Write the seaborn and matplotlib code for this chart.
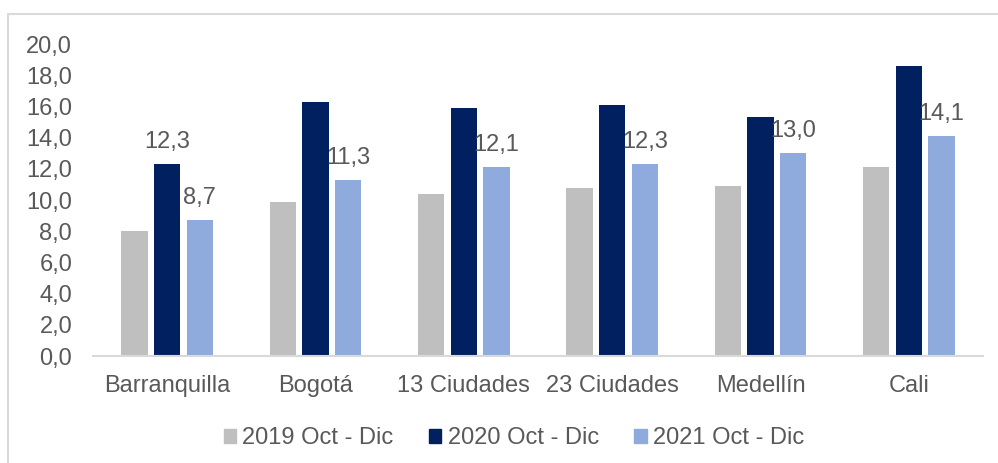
import pandas as pd
import numpy as np
import matplotlib.pyplot as plt
import seaborn as sns
from matplotlib.lines import Line2D

# Data
ciudades = ['Barranquilla', 'Bogotá', '13 Ciudades', '23 Ciudades', 'Medellín', 'Cali']
periodos = ['2019 Oct - Dic', '2020 Oct - Dic', '2021 Oct - Dic']
valores_2019 = [8.0, 9.9, 10.4, 10.8, 10.9, 12.1]
valores_2020 = [12.3, 16.3, 15.9, 16.1, 15.3, 18.6]
valores_2021 = [8.7, 11.3, 12.1, 12.3, 13.0, 14.1]
colores = ['#BFBFBF', '#002060', '#8FAADC']

# Long-form table for seaborn
df = pd.DataFrame({
    'ciudad': ciudades * 3,
    'periodo': np.repeat(periodos, len(ciudades)),
    'valor': valores_2019 + valores_2020 + valores_2021,
})

sns.set_theme(style='white')
plt.rcParams['font.family'] = ['Liberation Sans', 'DejaVu Sans']
gris = '#595959'
fs = 17

fig = plt.figure(figsize=(9.98, 4.63), dpi=100)
ax = fig.add_axes([93 / 998, 1 - 356 / 463, (983 - 93) / 998, (356 - 44) / 463])

sns.barplot(data=df, x='ciudad', y='valor', hue='periodo', order=ciudades,
            hue_order=periodos, palette=colores, width=0.66, gap=0.2,
            saturation=1, ax=ax, edgecolor='none')

ax.set_ylim(0, 20)
ax.set_xlim(-0.5, len(ciudades) - 0.5)
ax.set_yticks(np.arange(0, 21, 2))
ax.set_yticklabels([f'{v:.1f}'.replace('.', ',') for v in np.arange(0, 21, 2)])
ax.set_xlabel('')
ax.set_ylabel('')
ax.tick_params(axis='y', length=0, pad=15, labelsize=fs, labelcolor=gris)
ax.tick_params(axis='x', length=0, pad=14, labelsize=fs, labelcolor=gris)
for s in ['top', 'right', 'left']:
    ax.spines[s].set_visible(False)
ax.spines['bottom'].set_color('#D9D9D9')
ax.spines['bottom'].set_linewidth(1.5)

# Data labels: only Barranquilla 2020 and all of 2021
etiquetas_2020 = [f'{valores_2020[0]:.1f}'.replace('.', ',')] + [''] * (len(ciudades) - 1)
etiquetas_2021 = [f'{v:.1f}'.replace('.', ',') for v in valores_2021]
ax.bar_label(ax.containers[1], labels=etiquetas_2020, padding=8, fontsize=fs, color=gris)
ax.bar_label(ax.containers[2], labels=etiquetas_2021, padding=8, fontsize=fs, color=gris)

# Legend at the bottom
ax.legend_.remove()
handles = [plt.Rectangle((0, 0), 1, 1, color=c) for c in colores]
fig.legend(handles, periodos, loc='center', bbox_to_anchor=(514 / 998, 1 - 438 / 463),
           ncol=3, frameon=False, fontsize=fs, labelcolor=gris,
           handlelength=0.52, handleheight=0.52, handletextpad=0.26,
           columnspacing=1.5)

# Chart area border (left and top edges visible)
borde = '#D9D9D9'
fig.add_artist(Line2D([8 / 998, 8 / 998], [0, 1 - 14 / 463], color=borde, lw=1.5,
                      transform=fig.transFigure))
fig.add_artist(Line2D([8 / 998, 1], [1 - 14 / 463, 1 - 14 / 463], color=borde, lw=1.5,
                      transform=fig.transFigure))

fig.savefig('out.png', dpi=100)
